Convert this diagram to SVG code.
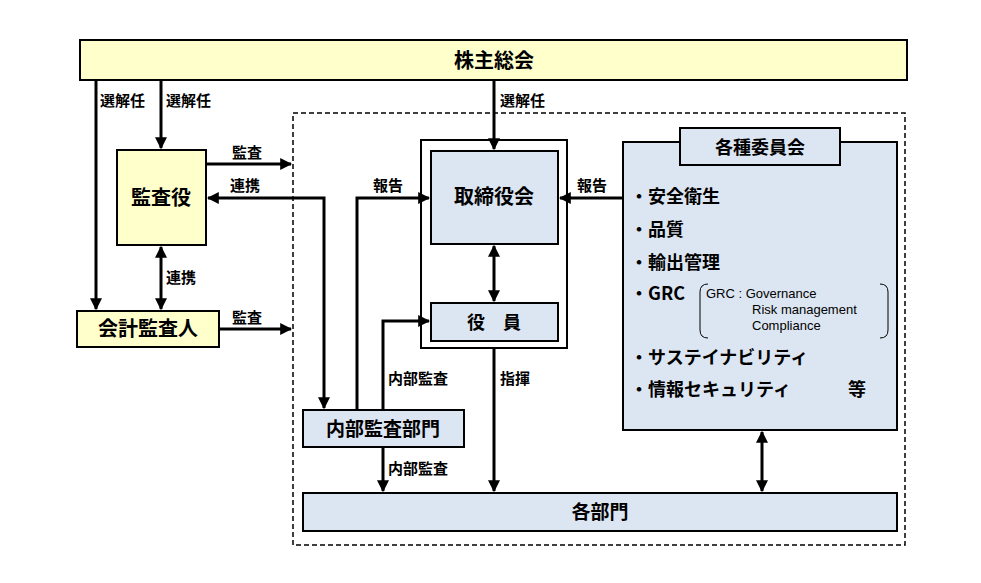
<svg xmlns="http://www.w3.org/2000/svg" width="981" height="583" viewBox="0 0 981 583">
<defs>
<marker id="a" viewBox="0 0 10 10" refX="9" refY="5" markerWidth="4" markerHeight="4" orient="auto-start-reverse"><path d="M0,0L10,5L0,10z" fill="#000"/></marker>
<style>
.b{stroke:#000;stroke-width:2}
.y{fill:#FFFFCC}
.l{fill:#DCE6F2}
text{font-family:"Noto Sans CJK JP","Noto Sans",sans-serif;font-weight:bold;fill:#000}
.c{stroke:#000;stroke-width:3;fill:none;marker-end:url(#a)}
.d{marker-start:url(#a)}
.s{font-size:15px}
.m{font-size:18px}
.g{font-family:"Liberation Sans",sans-serif;font-size:13px;font-weight:normal}
</style>
</defs>
<rect width="981" height="583" fill="#fff"/>
<rect x="293" y="113" width="612" height="432" fill="none" stroke="#000" stroke-width="1.5" stroke-dasharray="5,3"/>
<g id="n1"><rect class="b y" x="80" y="40" width="827" height="40"/><text x="494" y="68" font-size="20" text-anchor="middle">株主総会</text></g>
<g id="n2"><rect class="b y" x="117" y="150" width="89" height="95"/><text x="161" y="205" font-size="20" text-anchor="middle">監査役</text></g>
<g id="n3"><rect class="b y" x="77" y="311" width="142" height="36"/><text x="148" y="336" font-size="20" text-anchor="middle">会計監査人</text></g>
<g id="n4"><rect class="b" fill="#fff" x="421" y="140" width="146" height="208"/><rect class="b l" x="431" y="151" width="127" height="93"/><text x="494" y="204" font-size="20" text-anchor="middle">取締役会</text></g>
<g id="n5"><rect class="b l" x="431" y="303" width="127" height="38"/><text x="494" y="329" font-size="18" text-anchor="middle">役　員</text></g>
<g id="n6"><rect class="b l" x="303" y="410" width="161" height="37"/><text x="383" y="436" font-size="19" text-anchor="middle">内部監査部門</text></g>
<g id="n7"><rect class="b l" x="303" y="493" width="594" height="38"/><text x="600" y="519" font-size="19" text-anchor="middle">各部門</text></g>
<g id="n8"><rect class="b l" x="623" y="142" width="274" height="288"/><rect class="b l" x="680" y="128" width="160" height="37"/><text x="760" y="154" font-size="18" text-anchor="middle">各種委員会</text>
<text class="m" x="630" y="203">・安全衛生</text><text class="m" x="630" y="236">・品質</text><text class="m" x="630" y="269">・輸出管理</text><text class="m" x="630" y="300">・GRC</text>
<text class="m" x="630" y="364">・サステイナビリティ</text><text class="m" x="630" y="396">・情報セキュリティ</text><text class="m" x="848" y="396">等</text>
<path d="M708,284Q700,284 700,292V330Q700,338 708,338M880,284Q888,284 888,292V330Q888,338 880,338" fill="none" stroke="#000" stroke-width="1"/>
<text class="g" x="706" y="298">GRC : Governance</text><text class="g" x="752" y="314">Risk management</text><text class="g" x="752" y="330">Compliance</text></g>
<g id="connectors">
<path class="c" d="M96,80V309"/><path class="c" d="M161,80V148"/>
<path class="c" d="M206,164H291"/><path class="c d" d="M208,198H324V408"/>
<path class="c d" d="M161,247V309"/><path class="c" d="M219,329H291"/>
<path class="c" d="M494,80V149"/><path class="c d" d="M494,246V301"/>
<path class="c" d="M357,410V198H429"/><path class="c" d="M383,410V321H429"/>
<path class="c" d="M383,447V491"/><path class="c" d="M494,348V491"/>
<path class="c" d="M623,198H560"/><path class="c d" d="M762,432V491"/>
</g>
<g class="s">
<text x="100" y="106">選解任</text><text x="166" y="106">選解任</text><text x="500" y="106">選解任</text>
<text x="232" y="158">監査</text><text x="230" y="191">連携</text><text x="166" y="283">連携</text><text x="232" y="323">監査</text>
<text x="373" y="191">報告</text><text x="577" y="191">報告</text>
<text x="388" y="384">内部監査</text><text x="500" y="384">指揮</text><text x="388" y="474">内部監査</text>
</g>
</svg>
